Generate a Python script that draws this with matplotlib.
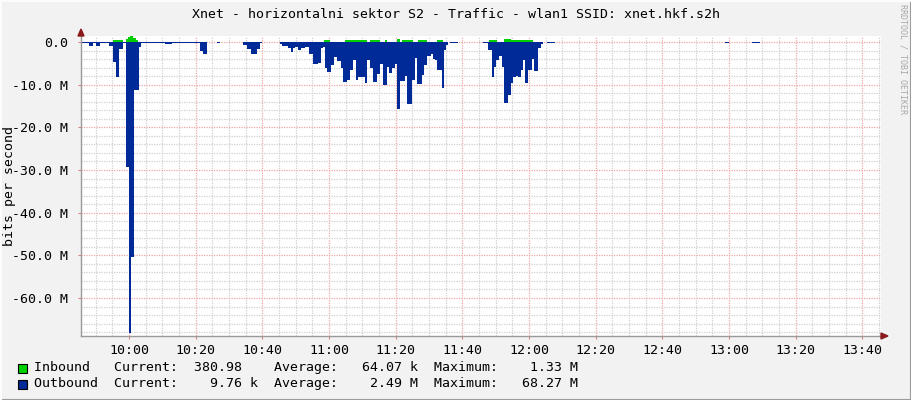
import matplotlib
matplotlib.use("Agg")
import matplotlib.pyplot as plt
from matplotlib.lines import Line2D
from matplotlib.patches import Rectangle, Polygon

# ---------------- data (times in minutes after 09:00, values in Mbit/s) ----------
out_t = [45.6, 45.8, 47.3, 48.1, 49.3, 50.1, 51.3, 54.1, 55.3, 56.1,
         57.1, 58.3, 59.25, 60.0, 60.75, 61.35, 62.85, 63.6, 70.8, 72.9,
         81.3, 82.2, 83.3, 86.3, 87.3, 94.1, 95.3, 96.5, 98.3, 99.3,
         99.9, 105.3, 105.9, 107.8, 108.5, 109.1, 109.8, 110.8, 111.5, 112.8,
         114.0, 115.3, 116.8, 117.5, 118.1, 118.8, 119.5, 120.5, 121.5, 122.3,
         123.5, 124.3, 125.3, 126.3, 127.3, 128.1, 128.8, 130.8, 131.5, 132.3,
         133.3, 134.5, 135.3, 136.3, 137.3, 138.1, 138.9, 139.8, 140.5, 141.3,
         142.8, 143.5, 144.8, 145.8, 146.5, 147.8, 148.5, 149.3, 150.5, 151.3,
         151.8, 152.5, 153.8, 154.5, 155.1, 155.8, 156.3, 158.8, 166.3, 167.8,
         168.8, 169.5, 170.1, 171.1, 171.8, 172.5, 173.8, 174.5, 175.1, 176.1,
         176.8, 177.5, 178.1, 178.8, 179.8, 180.8, 181.5, 182.8, 183.5, 184.1,
         185.3, 187.8, 238.8, 240.1, 246.8, 249.3]
out_v = [0.2, 0.3, 0.15, 1.0, 0.2, 1.0, 0.3, 1.0, 4.7, 8.2,
         1.7, 0.3, 29.2, 68.27, 50.5, 11.2, 1.2, 0.2, 0.5, 0.15,
         2.2, 2.7, 0.1, 0.3, 0, 0.6, 1.6, 2.8, 1.6, 0.3,
         0, 0.4, 0.9, 1.5, 2.3, 1.5, 1.2, 1.9, 1.5, 1.2,
         2.7, 5.2, 4.9, 1.5, 1.2, 6.2, 7.0, 5.5, 3.5, 4.4,
         6.2, 9.3, 9.0, 6.6, 4.3, 9.0, 8.2, 9.6, 4.3, 6.2,
         9.3, 7.4, 5.1, 10.1, 5.8, 7.2, 6.1, 5.1, 15.6, 9.2,
         8.0, 14.6, 9.0, 3.7, 9.9, 7.8, 5.5, 3.3, 2.7, 3.9,
         4.3, 6.6, 10.7, 1.9, 0.6, 0, 0.2, 0, 0.2, 1.8,
         8.2, 5.8, 4.1, 3.3, 5.8, 14.4, 12.5, 9.7, 8.2, 8.0,
         8.2, 6.5, 4.3, 9.7, 6.6, 3.9, 6.8, 1.5, 0.4, 0,
         0.2, 0, 0.3, 0, 0.3, 0]

in_t = [45.6, 55.2, 58.2, 59.1, 59.8, 60.3, 61.3, 62.1, 62.8, 118.5,
        120.3, 124.8, 131.4, 132.3, 135.3, 136.8, 137.4, 140.3, 141.3, 141.8,
        145.2, 146.7, 149.4, 152.3, 154.2, 168.0, 170.3, 172.6, 174.5, 181.2]
in_v = [0, 0.4, 0, 0.7, 1.2, 1.33, 1.0, 0.5, 0, 0.4,
        0, 0.4, 0, 0.4, 0, 0.4, 0, 0.6, 0, 0.4,
        0, 0.4, 0, 0.4, 0, 0.4, 0, 0.7, 0.4, 0]

t_start, t_end = 45.6, 285.6
x_ticks = [60, 80, 100, 120, 140, 160, 180, 200, 220, 240, 260, 280]
y_ticks = [0, -10, -20, -30, -40, -50, -60]

title = "Xnet - horizontalni sektor S2 - Traffic - wlan1 SSID: xnet.hkf.s2h"
legend_rows = [
    ("Inbound", "#00CF00", (380.98, ""), (64.07, "k"), (1.33, "M")),
    ("Outbound", "#002A97", (9.76, "k"), (2.49, "M"), (68.27, "M")),
]

# ---------------- figure -------------------------------------------------------
W, H = 911, 400
FONT = "DejaVu Sans Mono"
FS = 9.5
fig = plt.figure(figsize=(W / 100, H / 100), dpi=100, facecolor="#F2F2F2")
ax = fig.add_axes([81 / W, 64 / H, 800 / W, 300 / H])
ax.set_facecolor("white")
ax.set_xlim(t_start, t_end)
ax.set_ylim(-68.9, 1.41)

# grid
dot = (0, (1, 1))
m = 50
while m <= t_end:
    if m > t_start:
        major = (m % 20 == 0)
        ax.axvline(m, color="#F2A5A5" if major else "#D0D0D0", lw=0.9, ls=dot, zorder=0)
    m += 5
for k in range(0, 35):
    v = -2 * k
    if v < -68.9:
        break
    major = (k % 5 == 0)
    ax.axhline(v, color="#F2A5A5" if major else "#D0D0D0", lw=0.9, ls=dot, zorder=0)

# data
ot = out_t + [t_end]
ov = [-v for v in out_v] + [-out_v[-1]]
ax.fill_between(ot, 0, ov, step="post", color="#002A97", lw=0, zorder=2)
it = in_t + [t_end]
iv = in_v + [in_v[-1]]
ax.fill_between(it, 0, iv, step="post", color="#00CF00", lw=0, zorder=3)

# axes style
for s in ("top", "right"):
    ax.spines[s].set_visible(False)
for s in ("left", "bottom"):
    ax.spines[s].set_color("#9A9A9A")
    ax.spines[s].set_linewidth(1.0)
ax.set_xticks(x_ticks)
ax.set_xticklabels([f"{t // 60 + 9}:{t % 60:02d}" for t in x_ticks])
ax.set_yticks(y_ticks)
ax.set_yticklabels(["0.0" if v == 0 else f"{v:.1f} M" for v in y_ticks])
ax.tick_params(axis="both", length=2, width=0.8, color="#E08080",
               labelsize=FS, labelcolor="black")
ax.tick_params(axis="y", pad=7)
ax.tick_params(axis="x", pad=4)
for lab in ax.get_xticklabels() + ax.get_yticklabels():
    lab.set_fontfamily(FONT)

# arrows
fig.patches.append(Polygon([[78 / W, 364 / H], [84 / W, 364 / H], [81 / W, 371 / H]],
                           closed=True, transform=fig.transFigure, color="#8B1A1A"))
fig.patches.append(Polygon([[881 / W, 61 / H], [881 / W, 67 / H], [888 / W, 64 / H]],
                           closed=True, transform=fig.transFigure, color="#8B1A1A"))

# texts
fig.text(0.5, 1 - 14 / H, title, ha="center", va="center", fontsize=FS, family=FONT)
fig.text(10 / W, 1 - 186 / H, "bits per second", rotation=90, ha="center", va="center",
         fontsize=FS, family=FONT)
fig.text(903 / W, 1 - 4 / H, "RRDTOOL / TOBI OETIKER", rotation=270, ha="center", va="top",
         fontsize=6.0, family=FONT, color="#A8A8A8")

row_y = [368, 384]
for (name, col, cur, avg, mx), yy in zip(legend_rows, row_y):
    def fmt(p):
        return (f"{p[0]:8.2f} {p[1]}").ljust(12)
    s = f"{name:<10}Current:{fmt(cur)}Average:{fmt(avg)}Maximum:{mx[0]:8.2f} {mx[1]}"
    fig.text(33.5 / W, 1 - yy / H, s, ha="left", va="center", fontsize=FS, family=FONT)
    fig.patches.append(Rectangle((18 / W, 1 - (yy + 4.5) / H), 9 / W, 9 / H,
                                 transform=fig.transFigure, facecolor=col,
                                 edgecolor="black", lw=0.8))

# outer frame shading
fig.add_artist(Line2D([0, 1], [0.5 / H, 0.5 / H], transform=fig.transFigure, color="#9B9B9B", lw=1.5))
fig.add_artist(Line2D([1 - 0.5 / W, 1 - 0.5 / W], [0, 1], transform=fig.transFigure, color="#9B9B9B", lw=1.5))
fig.add_artist(Line2D([0, 1], [1 - 0.5 / H, 1 - 0.5 / H], transform=fig.transFigure, color="#FCFCFC", lw=1.5))
fig.add_artist(Line2D([0.5 / W, 0.5 / W], [0, 1], transform=fig.transFigure, color="#FCFCFC", lw=1.5))

fig.savefig("out.png", dpi=100, facecolor=fig.get_facecolor())
